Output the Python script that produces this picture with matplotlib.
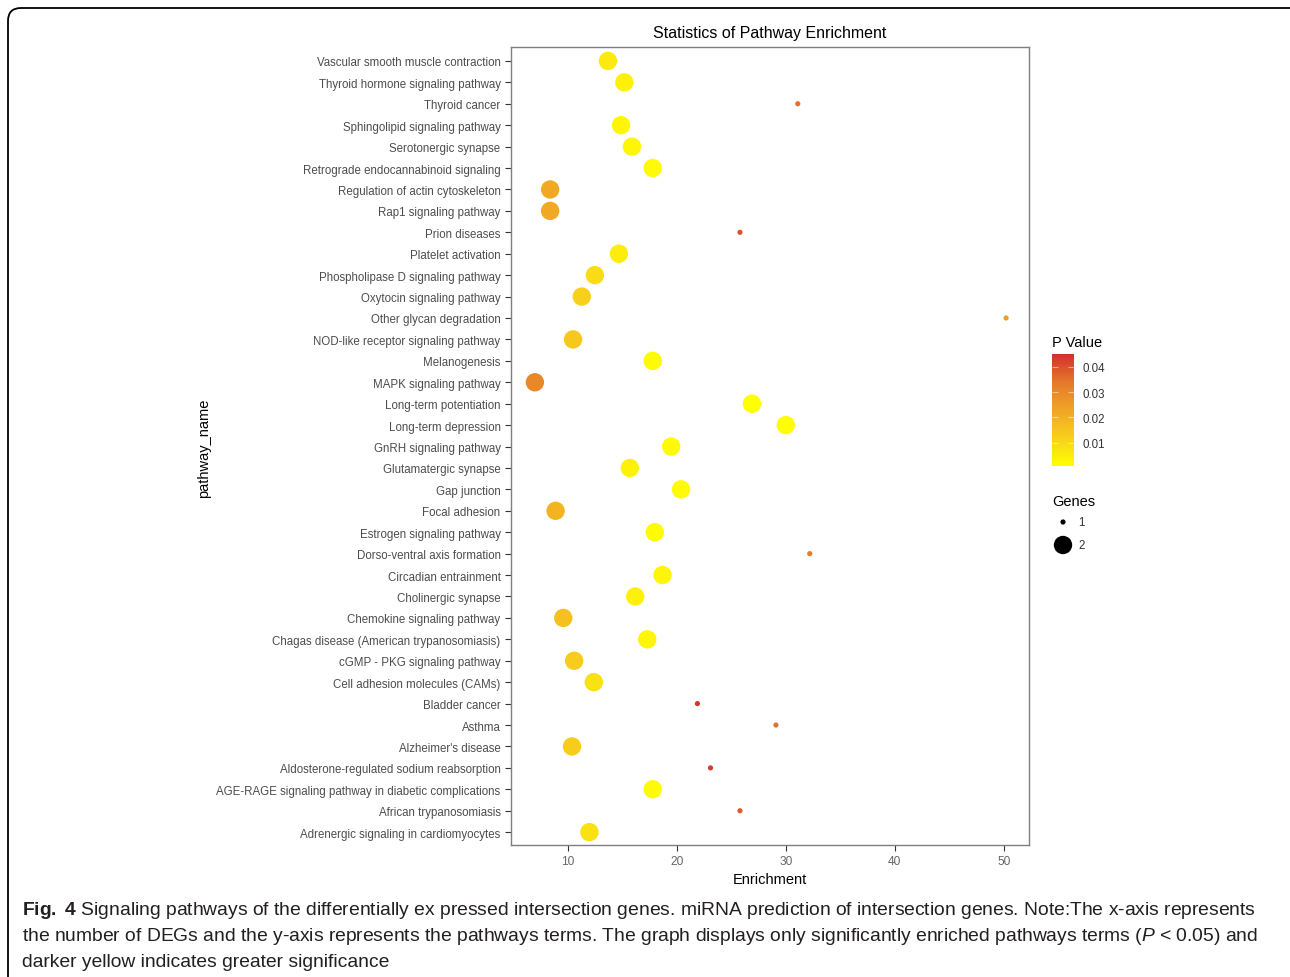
import numpy as np
import matplotlib.pyplot as plt
from matplotlib.colors import LinearSegmentedColormap
from matplotlib.patches import FancyBboxPatch
from matplotlib.transforms import IdentityTransform

plt.rcParams['font.family'] = 'Liberation Sans'
plt.rcParams['mathtext.fontset'] = 'custom'
plt.rcParams['mathtext.rm'] = 'Liberation Sans'
plt.rcParams['mathtext.it'] = 'Liberation Sans:italic'
plt.rcParams['mathtext.bf'] = 'Liberation Sans:bold'

# pathways, top to bottom as in the chart
pathways = [
    "Vascular smooth muscle contraction", "Thyroid hormone signaling pathway",
    "Thyroid cancer", "Sphingolipid signaling pathway", "Serotonergic synapse",
    "Retrograde endocannabinoid signaling", "Regulation of actin cytoskeleton",
    "Rap1 signaling pathway", "Prion diseases", "Platelet activation",
    "Phospholipase D signaling pathway", "Oxytocin signaling pathway",
    "Other glycan degradation", "NOD-like receptor signaling pathway",
    "Melanogenesis", "MAPK signaling pathway", "Long-term potentiation",
    "Long-term depression", "GnRH signaling pathway", "Glutamatergic synapse",
    "Gap junction", "Focal adhesion", "Estrogen signaling pathway",
    "Dorso-ventral axis formation", "Circadian entrainment", "Cholinergic synapse",
    "Chemokine signaling pathway", "Chagas disease (American trypanosomiasis)",
    "cGMP - PKG signaling pathway", "Cell adhesion molecules (CAMs)",
    "Bladder cancer", "Asthma", "Alzheimer's disease",
    "Aldosterone-regulated sodium reabsorption",
    "AGE-RAGE signaling pathway in diabetic complications",
    "African trypanosomiasis", "Adrenergic signaling in cardiomyocytes",
]
enrichment = [13.7, 15.2, 31.1, 14.9, 15.9, 17.8, 8.4, 8.4, 25.8, 14.7,
              12.5, 11.3, 50.2, 10.5, 17.8, 7.0, 26.9, 30.0, 19.5, 15.7,
              20.4, 8.9, 18.0, 32.2, 18.7, 16.2, 9.6, 17.3, 10.6, 12.4,
              21.9, 29.1, 10.4, 23.1, 17.8, 25.8, 12.0]
genes = [2, 2, 1, 2, 2, 2, 2, 2, 1, 2,
         2, 2, 1, 2, 2, 2, 2, 2, 2, 2,
         2, 2, 2, 1, 2, 2, 2, 2, 2, 2,
         1, 1, 2, 1, 2, 1, 2]
pvalue = [0.006, 0.004, 0.035, 0.003, 0.003, 0.002, 0.022, 0.022, 0.040, 0.005,
          0.009, 0.012, 0.025, 0.014, 0.002, 0.030, 0.001, 0.001, 0.002, 0.004,
          0.002, 0.019, 0.002, 0.033, 0.003, 0.004, 0.016, 0.003, 0.013, 0.008,
          0.044, 0.035, 0.013, 0.043, 0.002, 0.038, 0.008]

x_ticks = [10, 20, 30, 40, 50]
p_ticks = [0.01, 0.02, 0.03, 0.04]
p_min, p_max = 0.0009, 0.045

cmap = LinearSegmentedColormap.from_list(
    "yr", ["#FFFF00", "#F8D01C", "#F0A526", "#E5782A", "#D4302B"])

fig = plt.figure(figsize=(12.9, 9.78), dpi=100)

# rounded frame in pixel units: only top and left edges fall inside the picture
frame = FancyBboxPatch((8, -40), 1330, 1009,
                       boxstyle="round,pad=0,rounding_size=13",
                       transform=IdentityTransform(), fill=False,
                       edgecolor="black", linewidth=1.3)
fig.patches.append(frame)

ax = fig.add_axes([511 / 1290, 1 - 846 / 978, 518 / 1290, 798 / 978])
n = len(pathways)
ypos = np.arange(n)[::-1]
sizes = np.where(np.array(genes) == 2, 175, 14)
ax.scatter(enrichment, ypos, s=sizes, c=pvalue, cmap=cmap,
           vmin=p_min, vmax=p_max, edgecolors="none", zorder=3)

ax.set_xlim(4.81, 52.3)
ax.set_ylim(-0.6, n - 1 + 0.65)
ax.set_yticks(ypos)
ax.set_yticklabels(pathways)
ax.set_xticks(x_ticks)
ax.tick_params(axis="both", labelcolor="#4D4D4D", color="#333333",
               length=4, width=0.8)
ax.tick_params(axis="y", labelsize=8.3)
ax.tick_params(axis="x", labelsize=8.6, labelcolor="#666666")
for s in ax.spines.values():
    s.set_color("#7F7F7F")
    s.set_linewidth(1)
ax.set_title("Statistics of Pathway Enrichment", fontsize=11.5, pad=7)
ax.set_xlabel("Enrichment", fontsize=10.5, labelpad=3)
fig.text(204 / 1290, 1 - 448 / 978, "pathway_name", rotation=90,
         fontsize=10.5, ha="center", va="center")

# colorbar legend
cax = fig.add_axes([1052 / 1290, 1 - 467 / 978, 22 / 1290, 112 / 978])
sm = plt.cm.ScalarMappable(cmap=cmap, norm=plt.Normalize(p_min, p_max))
cb = fig.colorbar(sm, cax=cax, ticks=p_ticks)
cb.outline.set_visible(False)
cb.ax.set_yticklabels([f"{t:.2f}" for t in p_ticks])
cax.tick_params(direction="in", left=True, right=True, color="#FFFFFF80",
                length=4, width=0.8, labelsize=8.3, labelcolor="#333333", pad=6)
fig.text(1052 / 1290, 1 - 343 / 978, "P Value", fontsize=10.5, va="center")

# size legend
fig.text(1052 / 1290, 1 - 502 / 978, "Genes", fontsize=10.5, va="center")
lax = fig.add_axes([1050 / 1290, 1 - 556 / 978, 50 / 1290, 44 / 978])
lax.set_axis_off()
lax.set_xlim(0, 50)
lax.set_ylim(0, 44)
lax.scatter([13, 13], [33, 10], s=[14, 175], c="black", edgecolors="none")
lax.text(28, 33, "1", fontsize=8.3, va="center", color="#333333")
lax.text(28, 10, "2", fontsize=8.3, va="center", color="#333333")

# caption
cap_kw = dict(fontsize=13.9, color="#231F20", va="baseline", ha="left")
fig.text(22 / 1290, 1 - 915 / 978,
         r"$\mathbf{Fig.\ 4}$ Signaling pathways of the differentially ex pressed "
         "intersection genes. miRNA prediction of intersection genes. "
         "Note:The x-axis represents", **cap_kw)
fig.text(22 / 1290, 1 - 941 / 978,
         "the number of DEGs and the y-axis represents the pathways terms. "
         "The graph displays only significantly enriched pathways terms "
         r"($\mathit{P}$ < 0.05) and", **cap_kw)
fig.text(22 / 1290, 1 - 967 / 978,
         "darker yellow indicates greater significance", **cap_kw)

fig.savefig("out.png", dpi=100)
